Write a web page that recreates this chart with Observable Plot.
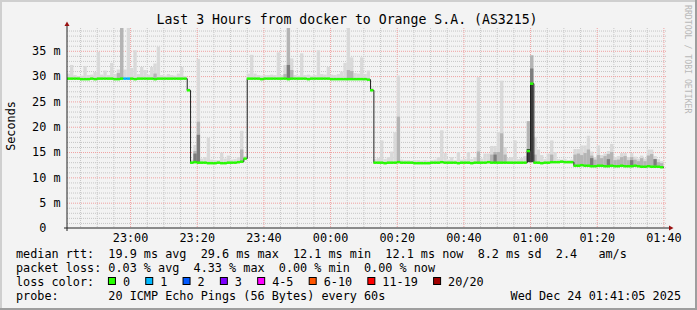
<!DOCTYPE html>
<html><head><meta charset="utf-8">
<script src="https://cdn.jsdelivr.net/npm/d3@7"></script>
<script src="https://cdn.jsdelivr.net/npm/@observablehq/plot@0.6"></script>
<style>
html,body{margin:0;padding:0;background:#f3f3f3;}
#chart svg{display:block}
svg text{white-space:pre}
</style></head><body><div id="chart"></div>
<script>
// ---- data (one RRD step = 1 minute) ----
const startTime = "2025-12-23T22:41:00Z";
const viewStart = "2025-12-23T22:41:05Z";
const viewEnd = "2025-12-24T01:41:05Z";

const median = [
29.6,29.6,29.6,29.6,29.5,29.5,29.5,29.6,29.5,29.6,
29.6,29.6,29.6,29.6,29.5,29.5,29.6,29.6,29.6,29.6,
29.5,29.6,29.6,29.6,29.6,29.6,29.5,29.6,29.6,29.6,
29.6,29.6,29.6,29.6,29.6,29.6,
27.3,
13.0,13.1,13.0,13.0,13.0,12.9,12.9,12.9,13.0,12.9,12.9,13.0,13.0,13.0,13.1,13.2,13.8,
29.6,29.6,29.6,29.6,29.5,29.6,29.6,29.6,29.6,29.6,
29.6,29.6,29.5,29.6,29.6,29.6,29.6,29.6,29.5,29.6,
29.6,29.6,29.6,29.6,29.6,29.5,29.5,29.5,29.5,29.5,
29.5,29.5,29.5,29.5,29.5,29.5,29.4,
27.3,
13.0,13.0,13.0,12.9,13.0,13.0,13.0,13.1,13.0,13.0,
13.0,13.0,12.9,12.9,12.9,12.9,12.9,13.0,13.0,13.0,
13.1,13.0,13.0,13.0,13.0,12.9,13.0,13.0,13.0,12.9,
13.0,13.0,13.0,13.0,13.1,13.0,13.0,13.0,13.0,13.0,
13.0,13.0,13.0,13.0,13.0,13.0,
15.3,28.6,
13.0,13.0,12.9,13.0,13.0,13.1,13.1,13.1,13.2,13.1,13.1,13.1,
12.4,12.4,12.5,12.4,12.4,12.3,12.3,12.4,12.4,12.3,
12.3,12.4,12.3,12.3,12.4,12.3,12.3,12.3,12.4,12.3,
12.2,12.2,12.3,12.2,12.2,12.2,12.1
];

// top of the smoke (slowest ping) per minute
const smokeHi = [
30.5,32.2,30.2,30.0,30.1,32.0,30.2,30.3,30.8,34.8,
30.3,31.1,30.2,32.6,30.4,31.3,39.5,31.3,39.5,31.6,
35.1,30.4,31.8,31.2,30.3,31.8,32.5,35.8,30.2,30.1,
30.4,30.2,30.1,30.5,31.8,30.0,27.6,13.5,16.4,33.4,
13.7,14.0,17.8,13.5,13.4,13.4,14.9,13.7,14.3,13.5,
13.6,14.0,19.2,14.2,30.5,34.2,30.5,30.2,30.1,30.2,
30.2,30.3,30.2,34.7,30.2,32.2,39.5,33.5,30.2,30.1,
34.5,30.2,30.3,30.1,30.2,35.1,30.4,30.3,31.8,30.3,
30.2,30.4,30.9,32.6,39.5,33.7,30.6,30.5,33.7,30.4,
31.1,27.7,13.6,13.8,17.3,13.6,14.0,15.1,18.9,30.1,
13.5,13.4,13.4,13.3,13.4,13.4,13.3,13.4,13.3,13.4,
13.5,14.0,19.3,14.8,13.5,14.0,13.4,15.0,13.5,13.6,
15.0,13.6,14.0,29.8,13.7,14.7,14.7,16.2,16.2,18.9,
29.1,16.0,13.8,14.0,17.3,13.6,13.8,14.2,21.1,34.1,
18.0,15.5,14.4,13.6,14.7,17.3,15.0,13.6,13.5,13.6,
13.4,13.5,15.6,15.6,16.3,16.3,18.2,15.1,14.0,16.3,
14.4,14.7,15.2,16.6,14.0,14.2,14.8,14.8,14.0,14.8,
14.1,13.7,14.3,13.7,15.5,15.5,14.2,13.6,13.2
];

// denser part of the smoke (several pings elevated)
const midMinute = [15,16,26,38,39,52,65,66,67,84,85,99,123,127,128,129,130,131,138,139,140,145,
  152,153,154,155,156,157,158,159,160,161,162,163,164,165,166,167,168,169,170,171,172,173,174,175,176,177,178];
const midHigh = [30.6,39.5,30.5,15.2,21.0,15.5,30.4,39.5,31.2,31.2,31.0,22.0,15.1,14.5,15.0,15.0,18.7,14.5,21.1,34.1,14.5,14.5,
  14.5,14.7,14.4,14.8,15.5,14.3,13.5,14.4,13.8,14.2,14.6,15.0,13.4,13.5,14.0,14.2,13.4,14.0,13.5,13.2,13.8,13.2,14.3,14.6,13.6,13.0,12.8];

// inner pings
const innerMinute = [38,39,66,128,139,157,162,169,176];
const innerLow  = [13.0,13.0,29.6,13.0,28.6,12.4,12.4,12.4,12.3];
const innerHigh = [14.7,18.4,32.2,14.5,31.5,13.8,13.6,13.4,13.6];

// core pings
const coreMinute = [138,139];
const coreLow  = [13.0,13.0];
const coreHigh = [15.6,28.6];

// packet loss (pings lost out of 20), only non-zero minutes
const lossMinute = [17,18];
const lossCount = [1,1];

const yTicks = [0,5,10,15,20,25,30,35];
const lossLabels = ["0","1","2","3","4-5","6-10","11-19","20/20"];
const lossColors = ["#26ff00","#00b8ff","#0059ff","#7e00ff","#ff00ff","#ff5500","#ff0000","#a00000"];

const titleText = "Last 3 Hours from docker to Orange S.A. (AS3215)";
const yLabel = "Seconds";
const watermark = "RRDTOOL / TOBI OETIKER";
const row1 = "median rtt:  19.9 ms avg  29.6 ms max  12.1 ms min  12.1 ms now  8.2 ms sd  2.4   am/s";
const row2 = "packet loss: 0.03 % avg  4.33 % max  0.00 % min  0.00 % now";
const row3 = "loss color:";
const row4 = "probe:       20 ICMP Echo Pings (56 Bytes) every 60s";
const stamp = "Wed Dec 24 01:41:05 2025";

// ---- build table ----
const t0 = new Date(startTime).getTime();
const rows = median.map((m, i) => ({
  start: new Date(t0 + i * 60000), end: new Date(t0 + (i + 1) * 60000),
  median: m, hi: smokeHi[i], loss: 0
}));
lossMinute.forEach((mi, k) => rows[mi].loss = lossCount[k]);
const bucket = n => n <= 3 ? n : n <= 5 ? 4 : n <= 10 ? 5 : n <= 19 ? 6 : 7;
const midRows = midMinute.map((mi, k) => ({start: rows[mi].start, end: rows[mi].end, lo: rows[mi].median, hi: midHigh[k]}));
const innerRows = innerMinute.map((mi, k) => ({start: rows[mi].start, end: rows[mi].end, lo: innerLow[k], hi: innerHigh[k]}));
const coreRows = coreMinute.map((mi, k) => ({start: rows[mi].start, end: rows[mi].end, lo: coreLow[k], hi: coreHigh[k]}));
const lineRows = rows.map(r => ({t: r.start, v: r.median}));
lineRows.push({t: rows[rows.length - 1].end, v: rows[rows.length - 1].median});

const vs = new Date(viewStart), ve = new Date(viewEnd);
const fiveMin = d3.utcMinute.every(5).range(vs, ve);
const majorX = fiveMin.filter(d => d.getUTCMinutes() % 20 === 0);
const minorX = fiveMin.filter(d => d.getUTCMinutes() % 20 !== 0);
const minorY = d3.range(1, 40).filter(v => v % 5 !== 0);
const majorY = yTicks.filter(v => v > 0);

const plot = Plot.plot({
  width: 697, height: 310,
  marginLeft: 67, marginRight: 30, marginTop: 28, marginBottom: 82,
  style: {background: "#f3f3f3", fontFamily: "DejaVu Sans Mono", fontSize: "11.8px", color: "#000", overflow: "visible"},
  x: {type: "utc", domain: [vs, ve]},
  y: {domain: [0, 39.5]},
  color: {type: "identity"},
  marks: [
    Plot.gridX(minorX, {stroke: "#c6c6c6", strokeOpacity: 1, strokeDasharray: "1,1"}),
    Plot.gridY(minorY, {stroke: "#c6c6c6", strokeOpacity: 1, strokeDasharray: "1,1"}),
    Plot.gridX(majorX, {stroke: "#f0a0a0", strokeOpacity: 1, strokeDasharray: "1,1"}),
    Plot.gridY(majorY, {stroke: "#f0a0a0", strokeOpacity: 1, strokeDasharray: "1,1"}),
    Plot.rect(rows, {x1: "start", x2: "end", y1: "median", y2: "hi", fill: "#d9d9d9", clip: true}),
    Plot.rect(midRows, {x1: "start", x2: "end", y1: "lo", y2: "hi", fill: "#b4b4b4", clip: true}),
    Plot.rect(innerRows, {x1: "start", x2: "end", y1: "lo", y2: "hi", fill: "#7c7c7c", clip: true}),
    Plot.rect(coreRows, {x1: "start", x2: "end", y1: "lo", y2: "hi", fill: "#3a3a3a", clip: true}),
    Plot.line(lineRows, {x: "t", y: "v", curve: "step-after", stroke: "#202020", strokeWidth: 1, clip: true}),
    Plot.ruleY(rows, {y: "median", x1: "start", x2: "end", stroke: d => lossColors[bucket(d.loss)], strokeWidth: 2.5, clip: true}),
    Plot.axisX({ticks: majorX, tickFormat: d3.utcFormat("%H:%M"), tickSize: 0, tickPadding: 5.5, label: null}),
    Plot.axisY({ticks: yTicks, tickFormat: d => d === 0 ? "0  " : d + " m", tickSize: 0, tickPadding: 7, label: null})
  ]
});
document.getElementById("chart").appendChild(plot);

// ---- decorations ----
const x = plot.scale("x"), y = plot.scale("y");
const svg = d3.select(plot);
const X0 = x.apply(vs), X1 = x.apply(ve), Y0 = y.apply(0), YT = y.apply(39.5);
const deco = svg.append("g");
deco.append("line").attr("x1", X0 - 3).attr("x2", X1 + 2).attr("y1", Y0).attr("y2", Y0).attr("stroke", "#222");
deco.append("line").attr("x1", X0).attr("x2", X0).attr("y1", Y0 + 3).attr("y2", YT - 2).attr("stroke", "#222");
deco.append("path").attr("d", `M${X0 - 2.5},${YT - 2}L${X0 + 2.5},${YT - 2}L${X0},${YT - 6.5}Z`).attr("fill", "#991111");
deco.append("path").attr("d", `M${X1 + 2},${Y0 - 2.5}L${X1 + 2},${Y0 + 2.5}L${X1 + 6.5},${Y0}Z`).attr("fill", "#991111");

// borders (3D shade)
deco.append("rect").attr("x", 0).attr("y", 0).attr("width", 697).attr("height", 2).attr("fill", "#cfcfcf");
deco.append("rect").attr("x", 0).attr("y", 0).attr("width", 2).attr("height", 310).attr("fill", "#cfcfcf");
deco.append("rect").attr("x", 0).attr("y", 308).attr("width", 697).attr("height", 2).attr("fill", "#9e9e9e");
deco.append("rect").attr("x", 695).attr("y", 0).attr("width", 2).attr("height", 310).attr("fill", "#9e9e9e");

const txt = svg.append("g").attr("font-family", "DejaVu Sans Mono").attr("font-size", 11.8)
  .attr("fill", "#000").attr("text-anchor", "start");
txt.append("text").attr("x", 347).attr("y", 24).attr("text-anchor", "middle").attr("font-size", 13.2).text(titleText);
txt.append("text").attr("transform", "translate(15,126) rotate(-90)").attr("text-anchor", "middle").text(yLabel);
txt.append("text").attr("transform", "translate(684.5,5) rotate(90)").attr("font-size", 8.2).attr("fill", "#b8b8b8").text(watermark);

const LX = 16, CW = 7.11;
txt.append("text").attr("x", LX).attr("y", 258.3).text(row1);
txt.append("text").attr("x", LX).attr("y", 272.2).text(row2);
txt.append("text").attr("x", LX).attr("y", 286.1).text(row3);
txt.append("text").attr("x", LX).attr("y", 300).text(row4);
txt.append("text").attr("x", 681).attr("y", 300).attr("text-anchor", "end").text(stamp);

let cx = LX + 13 * CW - 0.5;
lossLabels.forEach((lab, i) => {
  txt.append("rect").attr("x", cx + 0.5).attr("y", 277.5).attr("width", 7).attr("height", 7)
    .attr("fill", lossColors[i]).attr("stroke", "#000").attr("stroke-width", 1);
  txt.append("text").attr("x", cx + 15).attr("y", 286.1).text(lab);
  cx += 15 + lab.length * CW + 15.2;
});
</script></body></html>
